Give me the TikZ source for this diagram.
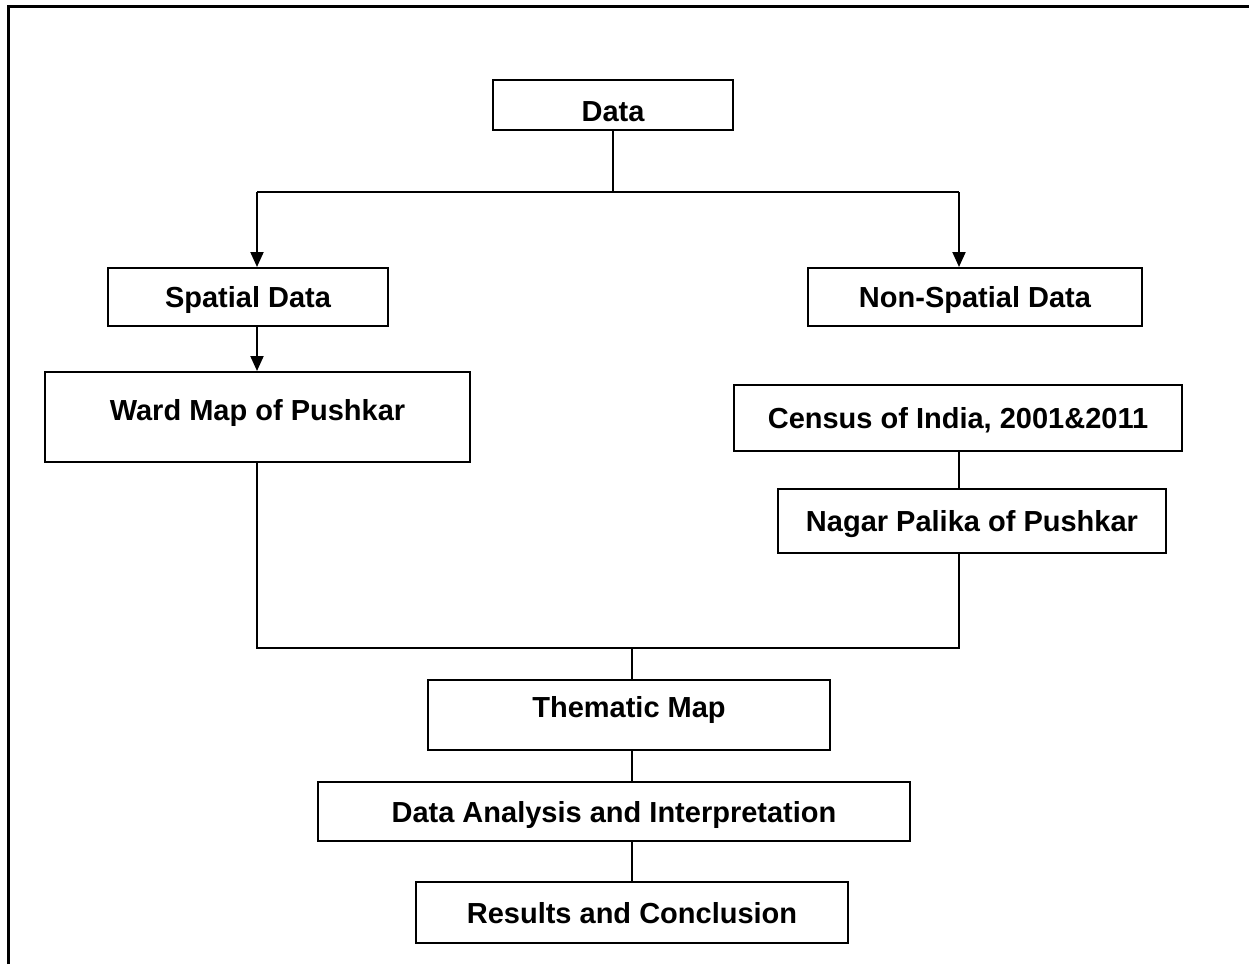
\documentclass[tikz,border=0pt]{standalone}
\usepackage{fontspec}
\setmainfont{Liberation Sans}
\usetikzlibrary{arrows.meta}
\begin{document}
\begin{tikzpicture}[x=1pt,y=-1pt,
  box/.style={draw, line width=2pt, inner sep=0pt, font=\fontsize{29}{34}\selectfont\bfseries,
    text height=21pt, text depth=0pt},
  conn/.style={line width=2pt},
  arr/.style={line width=2pt, -{Triangle[length=15pt,width=13pt]}}]
\useasboundingbox (0,0) rectangle (1249,964);
\draw[line width=3pt] (8,964) -- (8,6) -- (1249,6);

\node[box, minimum width=240pt, minimum height=50pt, text height=32pt] (data) at (613,105) {Data};
\node[box, minimum width=280pt, minimum height=58pt] (spatial) at (248,297) {Spatial Data};
\node[box, minimum width=334pt, minimum height=58pt] (nonspatial) at (975,297) {Non-Spatial Data};
\node[box, minimum width=425pt, minimum height=90pt, text depth=14pt] (ward) at (257.5,417) {Ward Map of Pushkar};
\node[box, minimum width=448pt, minimum height=66pt] (census) at (958,418) {Census of India, 2001\&2011};
\node[box, minimum width=388pt, minimum height=64pt] (nagar) at (972,521) {Nagar Palika of Pushkar};
\node[box, minimum width=402pt, minimum height=70pt, text depth=16pt] (thematic) at (629,715) {Thematic Map};
\node[box, minimum width=592pt, minimum height=59pt] (analysis) at (614,811.5) {Data Analysis and Interpretation};
\node[box, minimum width=432pt, minimum height=61pt] (results) at (632,912.5) {Results and Conclusion};

\coordinate (jt) at (613,192);
\coordinate (jl) at (257,192);
\coordinate (jr) at (959,192);
\coordinate (bl) at (257,648);
\coordinate (br) at (959,648);
\coordinate (bc) at (632,648);

\draw[conn] (data.south) -- (jt);
\draw[conn] (jl) -- (jr);
\draw[arr] (jl) -- (spatial.north -| jl);
\draw[arr] (jr) -- (nonspatial.north -| jr);
\draw[arr] (spatial.south -| jl) -- (ward.north -| jl);
\draw[conn] (census.south -| jr) -- (nagar.north -| jr);
\draw[conn] (ward.south -| bl) -- (bl) -- (br) -- (nagar.south -| br);
\draw[conn] (bc) -- (thematic.north -| bc);
\draw[conn] (thematic.south -| bc) -- (analysis.north -| bc);
\draw[conn] (analysis.south -| bc) -- (results.north -| bc);
\end{tikzpicture}
\end{document}
